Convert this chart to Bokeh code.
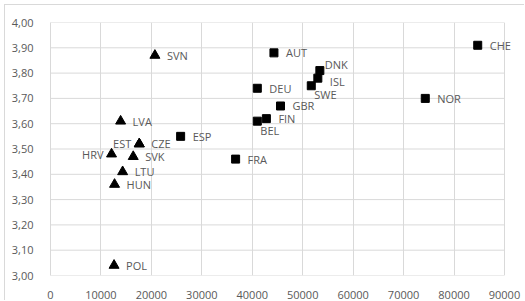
from bokeh.plotting import figure
from bokeh.models import (ColumnDataSource, FixedTicker, CustomJSTickFormatter,
                          NumeralTickFormatter, Range1d, LabelSet)
from bokeh.core.properties import value
from bokeh.embed import file_html
from bokeh.resources import INLINE

# ---- data ----
sq_names = ["AUT", "DNK", "ISL", "SWE", "DEU", "GBR", "FIN", "BEL", "CHE", "NOR", "FRA", "ESP"]
sq_x = [44300, 53400, 53000, 51700, 41000, 45600, 42800, 41000, 84700, 74300, 36700, 25800]
sq_y = [3.88, 3.81, 3.78, 3.75, 3.74, 3.67, 3.62, 3.61, 3.91, 3.70, 3.46, 3.55]

tri_names = ["SVN", "LVA", "EST", "CZE", "HRV", "SVK", "LTU", "HUN", "POL"]
tri_x = [20700, 13900, 17600, 17600, 12100, 16400, 14300, 12700, 12600]
tri_y = [3.87, 3.61, 3.52, 3.52, 3.48, 3.47, 3.41, 3.36, 3.04]

x_ticks = [0, 10000, 20000, 30000, 40000, 50000, 60000, 70000, 80000, 90000]
y_ticks = [3.00, 3.10, 3.20, 3.30, 3.40, 3.50, 3.60, 3.70, 3.80, 3.90, 4.00]

# ---- label placement (style) ----
placement = {"HRV": "left", "EST": "left", "DNK": "above", "ISL": "rightlow",
             "SWE": "below", "BEL": "below"}
offsets = {"right": (12, 0, "left"), "left": (-8, 0, "right"), "above": (5, -6, "left"),
           "rightlow": (12, 3, "left"), "below": (3, 9, "left")}

FONT = "Open Sans"
GRAY = "#595959"
GRID = "#d9d9d9"

# frame spans past the 90000 gridline so labels (CHE) are not clipped
X_PAD = 4170

p = figure(width=520, height=296, output_backend="svg", toolbar_location=None,
           x_range=Range1d(x_ticks[0], x_ticks[-1] + X_PAD), y_range=Range1d(y_ticks[0], y_ticks[-1]),
           min_border_left=45, min_border_top=17, min_border_right=0, min_border_bottom=24,
           background_fill_color="white", border_fill_color="white")
p.styles = {"margin-left": "4px", "margin-top": "4px",
            "border-left": "1px solid #d9d9d9", "border-top": "1px solid #d9d9d9"}
p.outline_line_color = None

for ax in (p.xaxis[0], p.yaxis[0]):
    ax.major_tick_line_color = None
    ax.minor_tick_line_color = None
    ax.major_label_text_font = FONT
    ax.major_label_text_font_size = "11px"
    ax.major_label_text_color = GRAY
p.yaxis.axis_line_color = GRID
p.xaxis.axis_line_color = None

p.xaxis.ticker = FixedTicker(ticks=x_ticks)
p.yaxis.ticker = FixedTicker(ticks=y_ticks)
p.xaxis.formatter = NumeralTickFormatter(format="0")
p.yaxis.formatter = CustomJSTickFormatter(code="return tick.toFixed(2).replace('.', ',');")
p.xaxis.major_label_standoff = 9
p.yaxis.major_label_standoff = 11

p.xgrid.ticker = FixedTicker(ticks=x_ticks)
p.xgrid.grid_line_color = GRID
p.ygrid.grid_line_color = None
# horizontal gridlines only across the 0..90000 plot area
p.segment(x0=x_ticks[0], x1=x_ticks[-1], y0=y_ticks, y1=y_ticks, line_color=GRID, line_width=1)

p.scatter(sq_x, sq_y, marker="square", size=8, color="black")
p.scatter(tri_x, tri_y, marker="triangle", size=10, color="black")

groups = {}
for names, xs, ys in ((sq_names, sq_x, sq_y), (tri_names, tri_x, tri_y)):
    for n, xv, yv in zip(names, xs, ys):
        dx, dy, a = offsets[placement.get(n, "right")]
        g = groups.setdefault(a, dict(x=[], y=[], name=[], xo=[], yo=[]))
        g["x"].append(xv); g["y"].append(yv); g["name"].append(n)
        g["xo"].append(dx); g["yo"].append(-dy)

for a, g in groups.items():
    p.add_layout(LabelSet(x="x", y="y", text="name", source=ColumnDataSource(g),
                          x_offset="xo", y_offset="yo", text_align=a,
                          text_baseline="middle", text_font=value(FONT),
                          text_font_size="11px", text_color=GRAY))

open("out.html", "w").write(file_html(p, INLINE))
